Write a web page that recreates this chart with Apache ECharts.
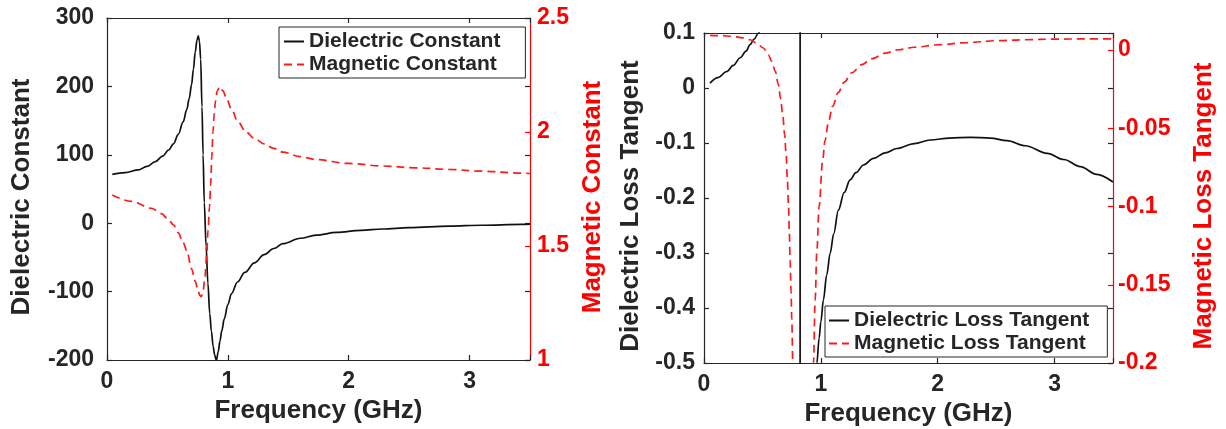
<!DOCTYPE html>
<html><head><meta charset="utf-8">
<script src="https://cdn.jsdelivr.net/npm/echarts@6/dist/echarts.min.js"></script>
<style>html,body{margin:0;padding:0;background:#fff}#c{width:1226px;height:429px}</style>
</head><body><div id="c"></div>
<script>
// ---- data ----
const xTickLabels = [0, 1, 2, 3];

// Left panel: Dielectric Constant (left axis)
const epsFreq = [0.044,0.15,0.26,0.33,0.40,0.46,0.51,0.55,0.59,0.63,0.66,0.68,0.70,0.715,0.73,0.745,0.755,0.765,0.775,0.786,0.795,0.805,0.82,0.835,0.85,0.864,0.878,0.891,0.905,0.92,0.935,0.95,0.97,1.0,1.03,1.08,1.14,1.22,1.30,1.38,1.455,1.6,1.73,1.9,2.1,2.28,2.5,2.83,3.1,3.43,3.5];
const epsVals = [71.5,74,78,83,90,98,107,116,130,148,166,182,203,225,250,268,274,266,240,170,100,30,-34,-88,-132,-158,-180,-193,-201,-188,-172,-157,-140,-119,-103,-86,-72,-58,-46,-37,-30,-22,-17.5,-13.5,-10.5,-8.5,-6.5,-4.3,-3,-1.8,-1.5];

// Left panel: Magnetic Constant (right axis)
const muFreq = [0.044,0.2,0.37,0.45,0.506,0.55,0.59,0.63,0.66,0.70,0.73,0.755,0.77,0.78,0.795,0.81,0.825,0.836,0.848,0.858,0.867,0.877,0.887,0.897,0.912,0.932,0.96,0.988,1.03,1.083,1.15,1.22,1.3,1.38,1.455,1.6,1.73,2.0,2.28,2.55,2.83,3.1,3.43,3.5];
const muVals = [1.724,1.696,1.665,1.642,1.618,1.593,1.558,1.515,1.48,1.40,1.345,1.30,1.282,1.278,1.30,1.365,1.46,1.57,1.67,1.77,1.89,2.00,2.08,2.133,2.18,2.199,2.18,2.148,2.10,2.045,2.00,1.972,1.948,1.928,1.912,1.892,1.879,1.862,1.851,1.843,1.836,1.828,1.82,1.818];

// Right panel: Dielectric Loss Tangent (left axis)
const tdFreq = [0.051,0.12,0.195,0.25,0.31,0.36,0.394,0.43,0.465,0.52,0.6,0.68,0.74,0.79,0.815,0.822,0.823,0.83,0.88,0.93,0.966,0.985,1.0,1.022,1.05,1.08,1.11,1.15,1.2,1.25,1.3,1.365,1.45,1.55,1.651,1.8,1.937,2.1,2.28,2.45,2.594,2.75,2.937,3.08,3.22,3.36,3.5];
const tdVals = [0.009,0.019,0.030,0.041,0.055,0.067,0.079,0.089,0.100,0.125,0.19,0.33,0.65,2.0,8,50,-50,-8,-1.6,-0.75,-0.5,-0.455,-0.425,-0.385,-0.34,-0.30,-0.265,-0.222,-0.19,-0.167,-0.154,-0.140,-0.128,-0.118,-0.110,-0.101,-0.0945,-0.091,-0.0897,-0.091,-0.0958,-0.105,-0.1188,-0.130,-0.143,-0.157,-0.171];

// Right panel: Magnetic Loss Tangent (right axis)
const tmFreq = [0.051,0.15,0.25,0.33,0.394,0.45,0.508,0.55,0.58,0.61,0.637,0.655,0.674,0.69,0.703,0.713,0.723,0.73,0.737,0.745,0.751,0.76,0.78,0.83,0.9,0.93,0.937,0.951,0.966,0.985,1.015,1.035,1.065,1.1,1.15,1.2,1.265,1.35,1.437,1.55,1.665,1.8,2.01,2.25,2.52,2.75,3.01,3.25,3.5];
const tmVals = [0.0094,0.0092,0.0088,0.0078,0.0066,0.0045,0.0013,-0.003,-0.0072,-0.0135,-0.0222,-0.031,-0.0414,-0.054,-0.067,-0.082,-0.099,-0.116,-0.135,-0.154,-0.172,-0.200,-0.3,-0.5,-0.35,-0.22,-0.2,-0.160,-0.128,-0.100,-0.071,-0.058,-0.046,-0.036,-0.027,-0.0205,-0.0145,-0.0093,-0.0055,-0.002,0.0002,0.0018,0.0034,0.0048,0.006,0.0066,0.007,0.0071,0.0072];

// ---- styling ----
const FONT = "'Liberation Sans', Arial, Helvetica, sans-serif";
const DARK = '#262626';
const RED = '#ff0000';
const pairs = (f, v) => f.map((x, i) => [x, v[i]]);

function xAx(grid, pos, withLabels, nameGap) {
  return {
    type: 'value', gridIndex: grid, position: pos, min: 0, max: 3.5, interval: 1,
    name: withLabels ? 'Frequency (GHz)' : '', nameLocation: 'middle', nameGap: nameGap,
    nameTextStyle: { fontFamily: FONT, fontWeight: 'bold', fontSize: 26, color: DARK },
    axisLine: { show: true, onZero: false, lineStyle: { color: DARK, width: 1.2 } },
    axisTick: { show: true, inside: true, length: 5, lineStyle: { color: DARK, width: 1.2 } },
    axisLabel: { show: withLabels, margin: 10, fontFamily: FONT, fontWeight: 'bold', fontSize: 23, color: DARK,
      formatter: v => xTickLabels.includes(v) ? String(v) : '' },
    splitLine: { show: false }
  };
}
function yAx(grid, pos, min, max, interval, color, opts) {
  opts = opts || {};
  return {
    type: 'value', gridIndex: grid, position: pos, min: min, max: max, interval: interval,
    name: opts.name || '', nameLocation: 'middle', nameGap: opts.nameGap || 0, nameRotate: 90,
    nameTextStyle: { fontFamily: FONT, fontWeight: 'bold', fontSize: 26, color: color, padding: [0, 16, 0, 0] },
    axisLine: { show: opts.line !== false, onZero: false, lineStyle: { color: color, width: 1.2 } },
    axisTick: { show: true, inside: true, length: 5, lineStyle: { color: color, width: 1.2 } },
    axisLabel: { show: opts.labels !== false, margin: opts.margin || 8, fontFamily: FONT, fontWeight: 'bold', fontSize: 23, color: color,
      showMaxLabel: opts.showMax !== false, formatter: opts.formatter },
    splitLine: { show: false }
  };
}
const stepLabel = step => v => {
  const k = Math.round(v / step);
  return Math.abs(v - k * step) < 1e-9 ? String(+(k * step).toFixed(2)) : '';
};

const legendText = { fontFamily: FONT, fontWeight: 'bold', fontSize: 21, color: DARK, lineHeight: 23 };
const lineSeries = (name, xi, yi, f, v, color, dash) => ({
  name: name, type: 'line', xAxisIndex: xi, yAxisIndex: yi, symbol: 'none', clip: true,
  smooth: 0.35, smoothMonotone: 'x',
  data: pairs(f, v), lineStyle: { color: color, width: 1.7, type: dash ? [8, 5] : 'solid' }, itemStyle: { color: color }
});

const option = {
  animation: false,
  backgroundColor: '#fff',
  textStyle: { fontFamily: FONT },
  grid: [
    { left: 107, top: 18, width: 423, height: 342, outerBoundsMode: 'none', containLabel: false },
    { left: 704, top: 33, width: 409, height: 330, outerBoundsMode: 'none', containLabel: false }
  ],
  xAxis: [
    xAx(0, 'bottom', true, 38),
    xAx(0, 'top', false, 0),
    xAx(1, 'bottom', true, 35),
    xAx(1, 'top', false, 0)
  ],
  yAxis: [
    yAx(0, 'left', -200, 300, 100, DARK, { name: 'Dielectric Constant', nameGap: 72, margin: 13 }),
    yAx(0, 'right', 1, 2.5, 0.5, RED, { name: 'Magnetic Constant', nameGap: 50, margin: 7 }),
    yAx(0, 'right', -200, 300, 100, DARK, { line: false, labels: false }),
    yAx(1, 'left', -0.5, 0.1, 0.1, DARK, { name: 'Dielectric Loss Tangent', nameGap: 60, margin: 9, formatter: stepLabel(0.1) }),
    yAx(1, 'right', -0.2, 0.0109, 0.05, RED, { name: 'Magnetic Loss Tangent', nameGap: 78, margin: 5, showMax: false, formatter: stepLabel(0.05) }),
    yAx(1, 'right', -0.5, 0.1, 0.1, DARK, { line: false, labels: false })
  ],
  legend: [
    { data: ['Dielectric Constant', 'Magnetic Constant'], left: 279, top: 27, orient: 'vertical',
      itemWidth: 20, itemHeight: 14, itemGap: 0, padding: [3, 25, 2, 4], selectedMode: false,
      itemStyle: { opacity: 0 },
      borderColor: DARK, borderWidth: 1, backgroundColor: '#fff', textStyle: legendText },
    { data: ['Dielectric Loss Tangent', 'Magnetic Loss Tangent'], left: 825, top: 306, orient: 'vertical',
      itemWidth: 20, itemHeight: 14, itemGap: 0, padding: [3, 18, 2, 3], selectedMode: false,
      itemStyle: { opacity: 0 },
      borderColor: DARK, borderWidth: 1, backgroundColor: '#fff', textStyle: legendText }
  ],
  series: [
    lineSeries('Dielectric Constant', 0, 0, epsFreq, epsVals, '#111', false),
    lineSeries('Magnetic Constant', 0, 1, muFreq, muVals, '#ff1a1a', true),
    lineSeries('Dielectric Loss Tangent', 2, 3, tdFreq, tdVals, '#111', false),
    lineSeries('Magnetic Loss Tangent', 2, 4, tmFreq, tmVals, '#ff1a1a', true)
  ]
};
const chart = echarts.init(document.getElementById('c'), null, { renderer: 'canvas' });
chart.setOption(option);
</script>
</body></html>
